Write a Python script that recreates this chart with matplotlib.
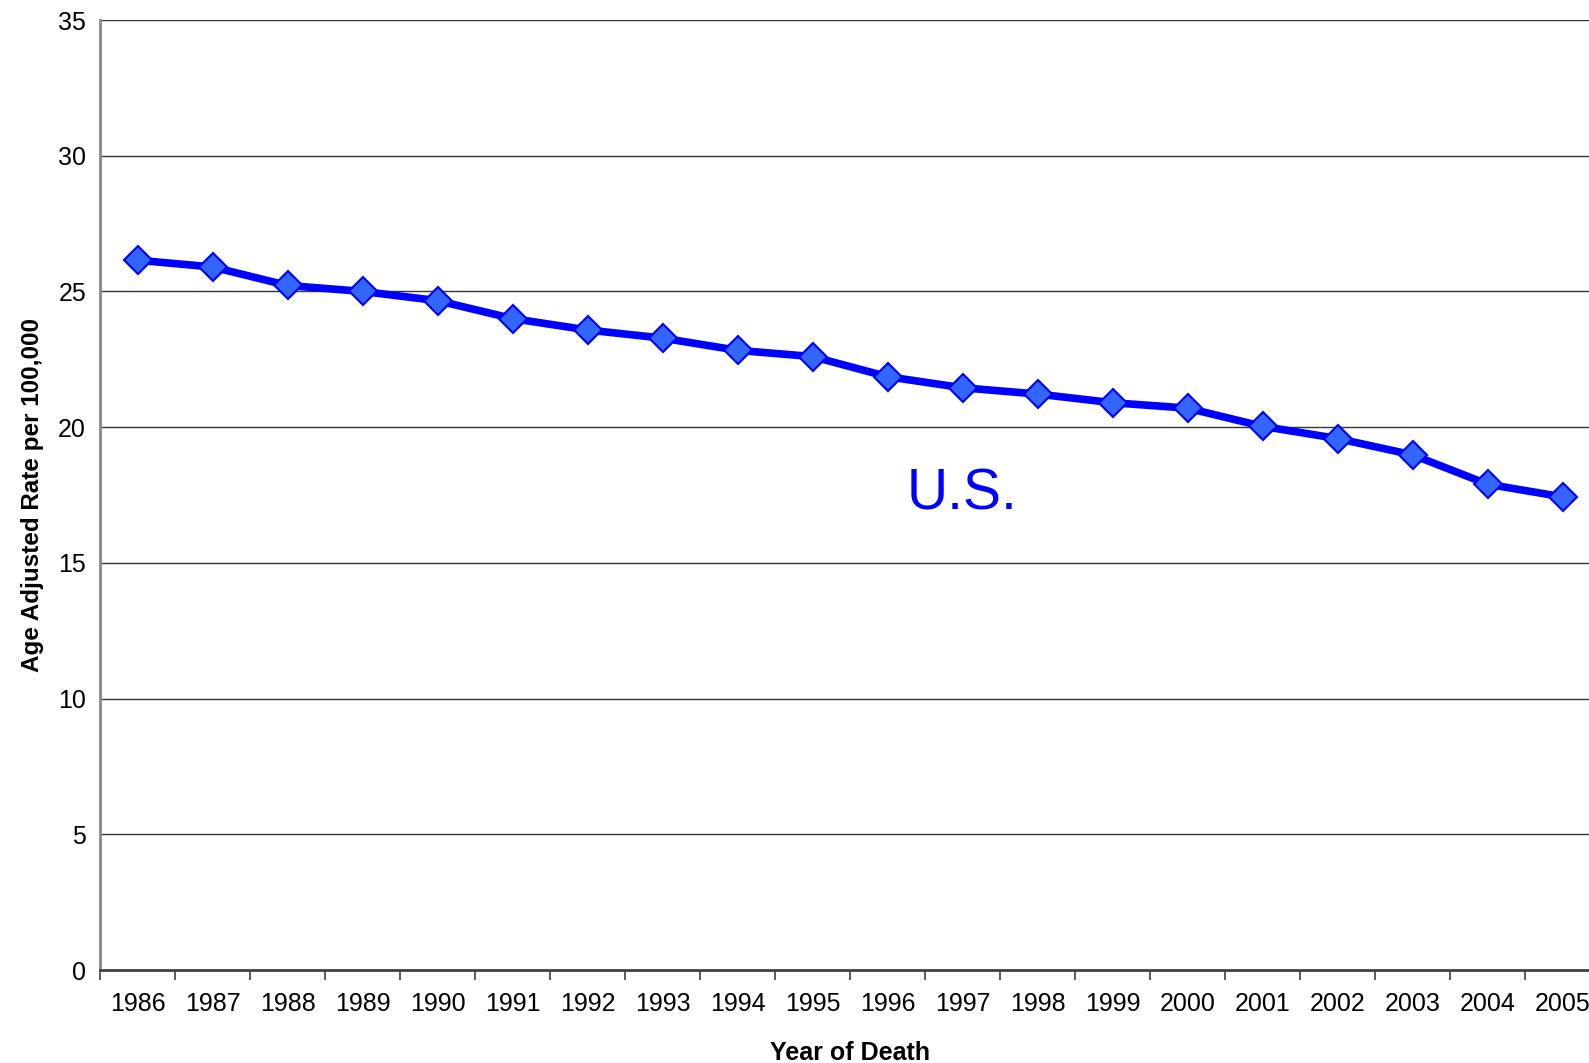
import numpy as np
import matplotlib.pyplot as plt

plt.rcParams['font.family'] = ['Liberation Sans', 'DejaVu Sans']

# Data
years = [str(y) for y in range(1986, 2006)]
rates = [26.15, 25.9, 25.22, 25.0, 24.66, 24.0, 23.58, 23.28, 22.83, 22.6,
         21.86, 21.45, 21.22, 20.9, 20.7, 20.03, 19.58, 18.98, 17.9, 17.43]
y_ticks = [0, 5, 10, 15, 20, 25, 30, 35]

fig = plt.figure(figsize=(15.89, 10.63), dpi=100)
ax = fig.add_axes([100 / 1589, 1 - 970 / 1063, 1500 / 1589, 950 / 1063])

x = np.arange(len(years))
ax.plot(x, rates, color='#0000FF', linewidth=5.5, marker='D', markersize=14.5,
        markerfacecolor='#3366FF', markeredgecolor='#0000FF', markeredgewidth=1.5,
        zorder=3, clip_on=False)

ax.text(11, 17.5, 'U.S.', color='#0000FF', fontsize=41, ha='center', va='center')

# axes limits and grid
ax.set_xlim(-0.5, len(years) - 0.5)
ax.set_ylim(0, 35)
ax.set_yticks(y_ticks)
ax.set_yticklabels([str(v) for v in y_ticks], fontsize=18)
for v in y_ticks[1:]:
    ax.axhline(v, color='#333333', linewidth=1, zorder=1)
ax.tick_params(axis='y', length=0, pad=10)

# category boundaries as ticks, labels in the middle
ax.set_xticks(np.arange(-0.5, len(years), 1.0))
ax.set_xticklabels([])
ax.set_xticks(x, minor=True)
ax.set_xticklabels(years, minor=True, fontsize=18)
ax.tick_params(axis='x', which='major', length=7, width=1.2, color='#404040', direction='out')
ax.tick_params(axis='x', which='minor', length=0, pad=16)

for side in ['top', 'right']:
    ax.spines[side].set_visible(False)
ax.spines['left'].set_color('#888888')
ax.spines['left'].set_linewidth(2)
ax.spines['bottom'].set_color('#404040')
ax.spines['bottom'].set_linewidth(2)

ax.set_xlabel('Year of Death', fontsize=18, fontweight='bold', labelpad=18)
ax.set_ylabel('Age Adjusted Rate per 100,000', fontsize=17.5, fontweight='bold', labelpad=10)

fig.savefig('out.png', dpi=100)
